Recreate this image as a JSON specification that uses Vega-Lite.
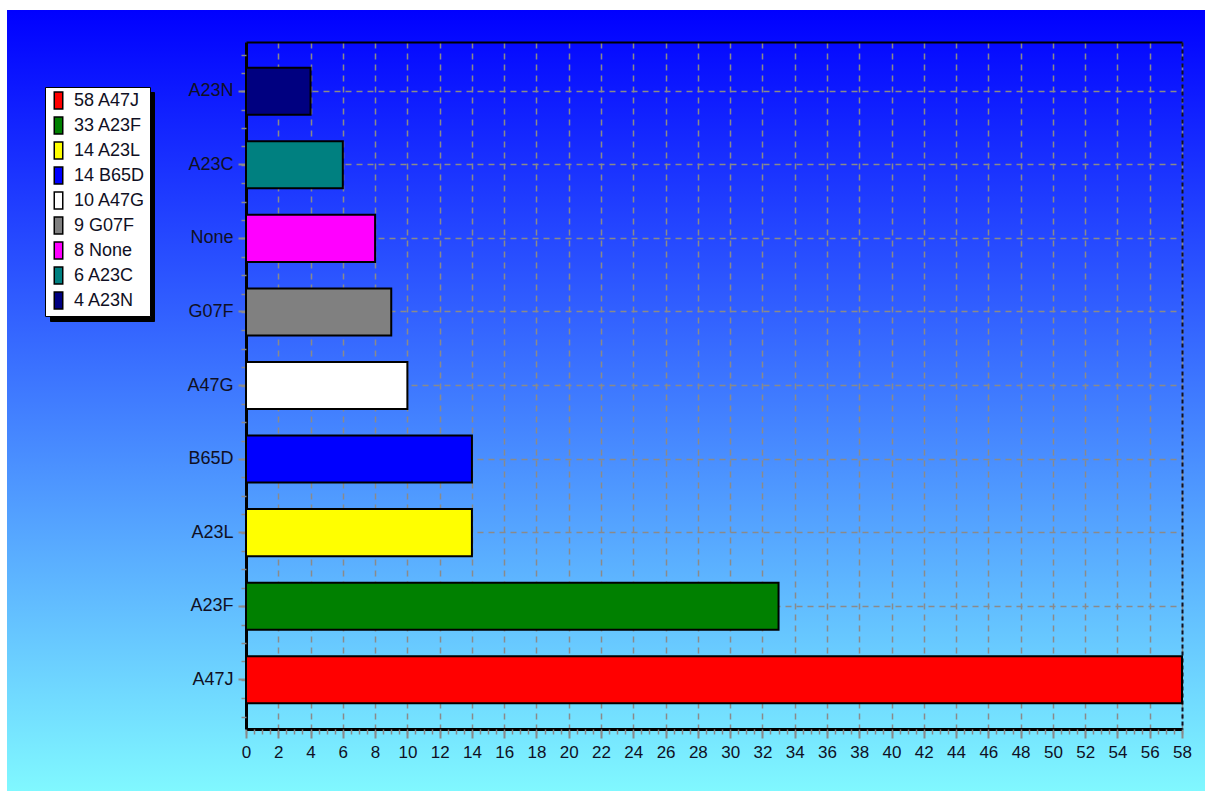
{
  "$schema": "https://vega.github.io/schema/vega-lite/v6.json",
  "width": 1198,
  "height": 781,
  "autosize": {"type": "none"},
  "padding": {"left": 7, "top": 10, "right": 0, "bottom": 0},
  "background": "white",
  "data": {
    "values": [
      {"code": "A47J", "count": 58, "label": "58 A47J"},
      {"code": "A23F", "count": 33, "label": "33 A23F"},
      {"code": "A23L", "count": 14, "label": "14 A23L"},
      {"code": "B65D", "count": 14, "label": "14 B65D"},
      {"code": "A47G", "count": 10, "label": "10 A47G"},
      {"code": "G07F", "count": 9, "label": "9 G07F"},
      {"code": "None", "count": 8, "label": "8 None"},
      {"code": "A23C", "count": 6, "label": "6 A23C"},
      {"code": "A23N", "count": 4, "label": "4 A23N"}
    ]
  },
  "resolve": {
    "scale": {"y": "independent"},
    "axis": {"x": "independent", "y": "independent"}
  },
  "layer": [
    {
      "mark": {"type": "bar", "stroke": "black", "strokeWidth": 2},
      "encoding": {
        "y": {
          "field": "code", "type": "nominal",
          "scale": {"domain": ["A23N", "A23C", "None", "G07F", "A47G", "B65D", "A23L", "A23F", "A47J"], "range": [32, 719], "paddingInner": 0.36, "paddingOuter": 0.35},
          "axis": {
            "orient": "left", "offset": -239, "title": null, "bandPosition": 0.5,
            "domainColor": "black", "domainWidth": 3,
            "tickColor": "#8a8a8a", "tickSize": 8, "tickWidth": 2,
            "labelFont": "Liberation Sans", "labelFontSize": 18, "labelColor": "#101024", "labelPadding": 5,
            "grid": true, "gridColor": "#8a8a8a", "gridDash": [6, 5], "gridWidth": 1.5
          }
        },
        "x": {
          "field": "count", "type": "quantitative",
          "scale": {"domain": [0, 58], "range": [239, 1175], "nice": false, "zero": true},
          "axis": {
            "orient": "bottom", "offset": -62, "title": null, "tickCount": 29, "grid": false,
            "domainColor": "black", "domainWidth": 3,
            "tickColor": "#8a8a8a", "tickSize": 9, "tickWidth": 2,
            "labelFont": "Liberation Sans", "labelFontSize": 17, "labelColor": "#101024", "labelPadding": 6,
            "labelFlush": false, "labelOverlap": false
          }
        },
        "fill": {
          "field": "label", "type": "nominal",
          "scale": {
            "domain": ["58 A47J", "33 A23F", "14 A23L", "14 B65D", "10 A47G", "9 G07F", "8 None", "6 A23C", "4 A23N"],
            "range": ["#ff0000", "#008000", "#ffff00", "#0000ff", "#ffffff", "#808080", "#ff00ff", "#008080", "#000080"]
          },
          "legend": {
            "title": null, "orient": "none", "legendX": 38, "legendY": 77, "zindex": 2,
            "fillColor": "white", "strokeColor": "black", "padding": 4,
            "symbolType": "M-0.5,-1H0.5V1H-0.5Z", "symbolSize": 289,
            "symbolStrokeColor": "black", "symbolStrokeWidth": 1.5, "symbolOpacity": 1,
            "labelFont": "Liberation Sans", "labelFontSize": 18, "labelColor": "#101024", "labelOffset": 6,
            "rowPadding": 2
          }
        }
      }
    },
    {
      "mark": {"type": "bar", "opacity": 0},
      "encoding": {
        "y": {
          "field": "code", "type": "nominal",
          "scale": {"domain": ["A23N", "A23C", "None", "G07F", "A47G", "B65D", "A23L", "A23F", "A47J"], "range": [32, 719], "paddingInner": 0.36, "paddingOuter": 0.35},
          "axis": {
            "orient": "right", "offset": -23, "title": null, "ticks": false, "labels": false, "grid": false,
            "domainColor": "#101020", "domainWidth": 2, "domainDash": [4, 3]
          }
        },
        "x": {
          "field": "count", "type": "quantitative",
          "scale": {"domain": [0, 58], "range": [239, 1175], "nice": false, "zero": true},
          "axis": {
            "orient": "top", "offset": -32, "title": null, "tickCount": 29, "ticks": false, "labels": false,
            "domainColor": "black", "domainWidth": 2,
            "grid": true, "gridColor": "#8a8a8a", "gridDash": [6, 5], "gridWidth": 1.5
          }
        },
        "stroke": {
          "field": "label", "type": "nominal",
          "scale": {"range": ["black"]},
          "legend": {
            "title": null, "orient": "none", "legendX": 43, "legendY": 82, "zindex": 1,
            "fillColor": "black", "strokeColor": "black", "padding": 4,
            "symbolType": "M-0.5,-1H0.5V1H-0.5Z", "symbolSize": 289,
            "symbolStrokeColor": "black", "symbolFillColor": "black",
            "labelExpr": "''", "labelFontSize": 18, "labelColor": "black", "labelOffset": 77,
            "rowPadding": 2
          }
        }
      }
    },
    {
      "mark": {"type": "point", "opacity": 0},
      "encoding": {
        "x": {
          "field": "count", "type": "quantitative",
          "scale": {"domain": [0, 58], "range": [239, 1175], "nice": false, "zero": true},
          "axis": {
            "orient": "bottom", "offset": -62, "title": null, "tickCount": 116, "labels": false, "domain": false, "grid": false,
            "tickColor": "#8a8a8a", "tickSize": 5, "tickWidth": 1.5
          }
        },
        "y": {
          "field": "count", "type": "quantitative",
          "scale": {"domain": [-2.681, 34.676], "range": [32, 719], "nice": false, "zero": false},
          "axis": {
            "orient": "left", "offset": -239, "title": null, "tickCount": 37, "labels": false, "domain": false, "grid": false,
            "tickColor": "#8a8a8a", "tickSize": 5, "tickWidth": 1.5
          }
        }
      }
    }
  ],
  "config": {
    "view": {
      "stroke": null,
      "fill": {
        "gradient": "linear", "x1": 0, "y1": 0, "x2": 0, "y2": 1,
        "stops": [{"offset": 0, "color": "#0000ff"}, {"offset": 1, "color": "#80f8ff"}]
      }
    }
  }
}
